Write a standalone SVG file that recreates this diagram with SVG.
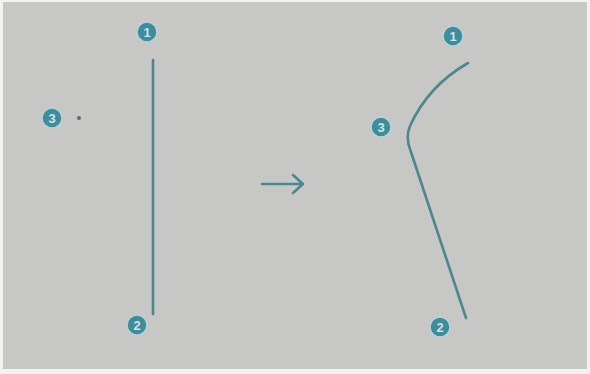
<svg xmlns="http://www.w3.org/2000/svg" width="590" height="374" viewBox="0 0 590 374">
<style>
.bg{fill:#c7c7c5}
.badge circle{fill:#3f8c9c;stroke:#b9d3d6;stroke-width:1.5}
.badge text{font-family:"Liberation Sans",Arial,sans-serif;font-size:13px;font-weight:bold;fill:#cfe3e6;text-anchor:middle;dominant-baseline:central}
.edge{fill:none;stroke:#4c8790;stroke-width:2.6;stroke-linecap:round;stroke-linejoin:round}
</style>
<rect width="590" height="374" fill="#f2f2f0"/>
<rect class="bg" x="3" y="2" width="584" height="367"/>
<g id="connectors">
<line class="edge" x1="153" y1="60" x2="153" y2="314"/>
<path class="edge" d="M468,63 Q428,86 410,126 Q405,138 411,152 L466,318"/>
<path class="edge" d="M262,184 H302 M293,175 L303,184 L293,193" stroke="#5a8e98" stroke-width="3"/>
</g>
<g id="n1-left" class="badge"><circle cx="147" cy="32" r="10"/><text x="147" y="32">1</text></g>
<g id="n3-left" class="badge"><circle cx="52" cy="118" r="10"/><text x="52" y="118">3</text></g>
<g id="n3-left-dot"><circle cx="79" cy="118" r="2" fill="#5a6a6c"/></g>
<g id="n2-left" class="badge"><circle cx="137" cy="325" r="10"/><text x="137" y="325">2</text></g>
<g id="n1-right" class="badge"><circle cx="453" cy="36" r="10"/><text x="453" y="36">1</text></g>
<g id="n3-right" class="badge"><circle cx="381" cy="127" r="10"/><text x="381" y="127">3</text></g>
<g id="n2-right" class="badge"><circle cx="440" cy="327" r="10"/><text x="440" y="327">2</text></g>
</svg>
